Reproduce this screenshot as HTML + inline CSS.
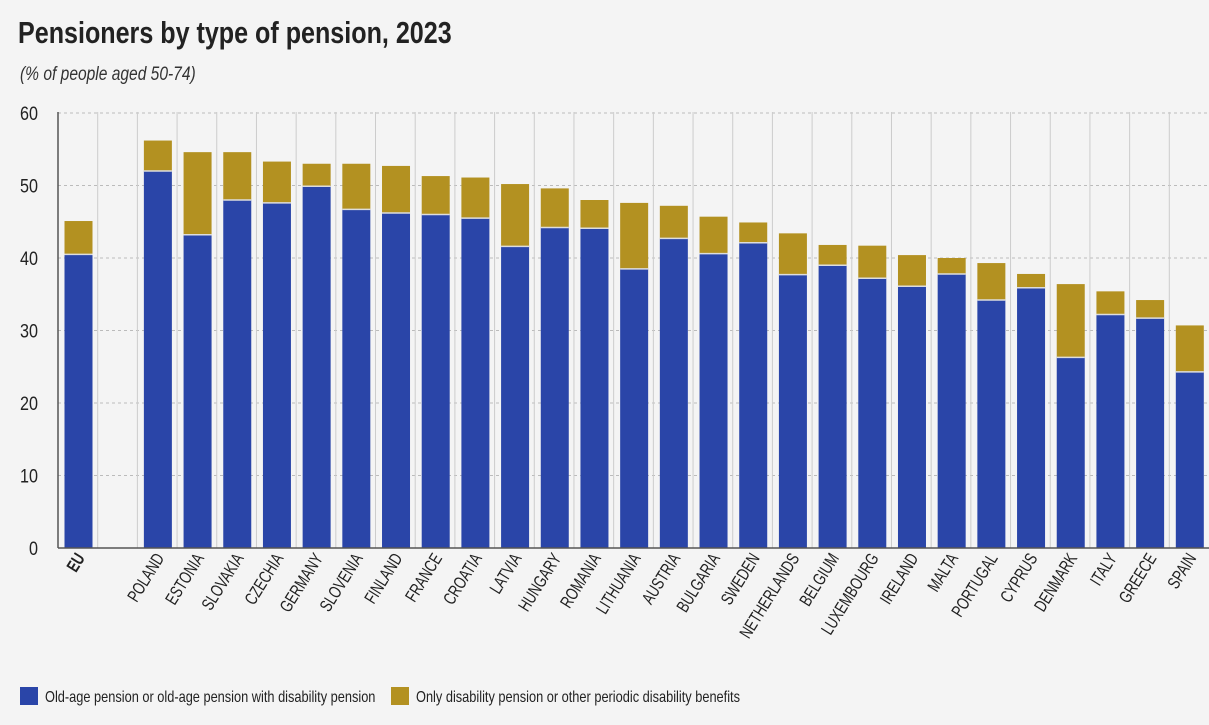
<!DOCTYPE html>
<html><head><meta charset="utf-8"><style>
body{margin:0;background:#f4f4f4;width:1209px;height:720px;overflow:hidden}
</style></head><body>
<svg width="1209" height="720" xmlns="http://www.w3.org/2000/svg" font-family="Liberation Sans, sans-serif">
<rect width="1209" height="720" fill="#f4f4f4"/>
<text transform="translate(18,43) scale(0.81,1)" font-size="31" font-weight="bold" fill="#222">Pensioners by type of pension, 2023</text>
<text transform="translate(20,80) scale(0.82,1)" font-size="19" font-style="italic" fill="#333">(% of people aged 50-74)</text>
<g id="g"></g>
</svg>
<script>
const d=[["EU",40.5,45.1],null,["POLAND",52,56.2],["ESTONIA",43.2,54.6],["SLOVAKIA",48,54.6],["CZECHIA",47.6,53.3],["GERMANY",49.9,53],["SLOVENIA",46.7,53],["FINLAND",46.2,52.7],["FRANCE",46,51.3],["CROATIA",45.5,51.1],["LATVIA",41.6,50.2],["HUNGARY",44.2,49.6],["ROMANIA",44.1,48],["LITHUANIA",38.5,47.6],["AUSTRIA",42.7,47.2],["BULGARIA",40.6,45.7],["SWEDEN",42.1,44.9],["NETHERLANDS",37.7,43.4],["BELGIUM",39,41.8],["LUXEMBOURG",37.2,41.7],["IRELAND",36.1,40.4],["MALTA",37.8,40],["PORTUGAL",34.2,39.3],["CYPRUS",35.9,37.8],["DENMARK",26.3,36.4],["ITALY",32.2,35.4],["GREECE",31.7,34.2],["SPAIN",24.3,30.7]];
const x0=58,y0=548,k=7.25,sw=1151/29;let s="";
for(let v=10;v<=60;v+=10){const y=y0-v*k;s+=`<line x1="${x0}" x2="1209" y1="${y}" y2="${y}" stroke="#bbb" stroke-dasharray="3,3"/>`;}
for(let v=0;v<=60;v+=10){s+=`<text transform="translate(38,${y0-v*k+7}) scale(0.85,1)" font-size="19" text-anchor="end" fill="#222">${v}</text>`;}
for(let i=1;i<29;i++){const x=x0+i*sw;s+=`<line x1="${x}" x2="${x}" y1="112" y2="${y0}" stroke="#ccc"/>`;}
d.forEach((r,i)=>{if(!r)return;const x=x0+i*sw+6.5,w=28;
s+=`<rect x="${x}" y="${y0-r[2]*k}" width="${w}" height="${(r[2]-r[1])*k}" fill="#b39121"/>`;
s+=`<rect x="${x}" y="${y0-r[1]*k}" width="${w}" height="${r[1]*k}" fill="#2a45a8"/>`;
s+=`<line x1="${x}" x2="${x+w}" y1="${y0-r[1]*k}" y2="${y0-r[1]*k}" stroke="#ddd" stroke-width="1.5"/>`;
const cx=x+w/2+7;s+=`<text transform="translate(${cx},558) rotate(-58) scale(0.74,1)" text-anchor="end" font-size="17.5" ${i==0?'font-weight="bold"':''} fill="#222">${r[0]}</text>`;});
s+=`<line x1="${x0}" x2="${x0}" y1="112" y2="${y0}" stroke="#555" stroke-width="1.5"/><line x1="${x0}" x2="1209" y1="${y0}" y2="${y0}" stroke="#555" stroke-width="1.5"/>`;
s+=`<rect x="20" y="687" width="18" height="18" fill="#2a45a8"/><text transform="translate(45,702) scale(0.8,1)" font-size="16" fill="#222">Old-age pension or old-age pension with disability pension</text>`;
s+=`<rect x="391" y="687" width="18" height="18" fill="#b39121"/><text transform="translate(416,702) scale(0.8,1)" font-size="16" fill="#222">Only disability pension or other periodic disability benefits</text>`;
document.getElementById("g").innerHTML=s;
</script>
</body></html>
